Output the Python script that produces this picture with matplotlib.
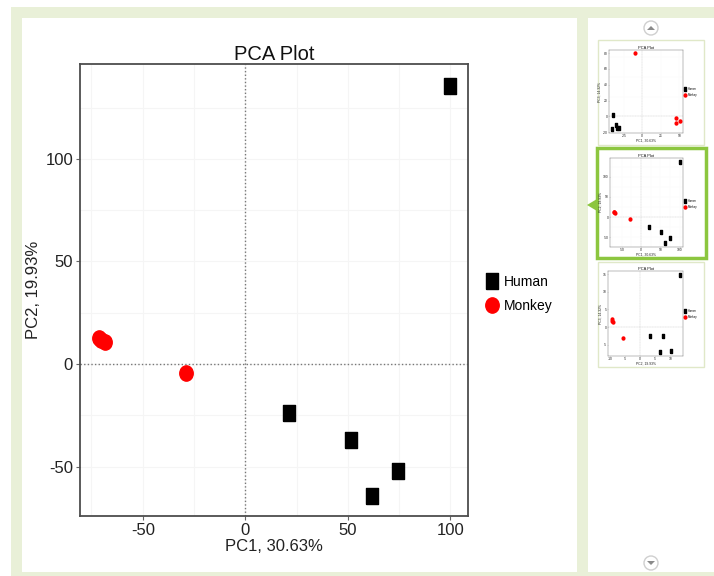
import matplotlib
matplotlib.use('Agg')
import matplotlib.pyplot as plt
from matplotlib.path import Path
from matplotlib.lines import Line2D
from matplotlib.patches import Rectangle, Circle, Polygon

plt.rcParams['font.family'] = ['Liberation Sans', 'DejaVu Sans']
plt.rcParams['axes.unicode_minus'] = False

# main PCA scores (PC1 vs PC2)
human_pc1 = [99.9, 21.3, 51.6, 74.5, 61.8]
human_pc2 = [135.6, -23.9, -37.0, -52.2, -64.4]
monkey_pc1 = [-71.5, -70.3, -68.6, -28.9]
monkey_pc2 = [12.6, 11.8, 10.6, -4.4]
main_xticks = [-50, 0, 50, 100]
main_yticks = [-50, 0, 50, 100]

# thumbnail 1 (other component pair)
t1_human_x = [-39.5, -36.0, -40.5, -34.0, -31.5]
t1_human_y = [1.7, -10.8, -15.8, -15.0, -14.2]
t1_monkey_x = [-10.0, 45.0, 50.5, 46.0]
t1_monkey_y = [80.0, -2.5, -5.4, -8.8]
t1_xticks = [-25, 0, 25, 50]
t1_yticks = [-20, 0, 20, 40, 60, 80]

# thumbnail 3
t3_human_x = [13.1, 3.3, 7.6, 6.7, 10.3]
t3_human_y = [14.8, -2.5, -2.5, -7.0, -6.9]
t3_monkey_x = [-9.4, -9.2, -9.0, -5.8]
t3_monkey_y = [2.2, 1.7, 1.4, -3.0]
t3_xticks = [-10, -5, 0, 5, 10]
t3_yticks = [-5, 0, 5, 10, 15]

W, H = 714, 576
GREEN = '#e9f0d8'
SEL = '#8cc63f'

fig = plt.figure(figsize=(W / 100, H / 100), dpi=100)
bg = fig.add_axes([0, 0, 1, 1], zorder=-1)
bg.set_xlim(0, W)
bg.set_ylim(H, 0)
bg.axis('off')

# page chrome
bg.add_patch(Rectangle((11, 7), W - 11, H - 7, fc=GREEN, ec='none'))
bg.add_patch(Rectangle((22, 18), 555, 554, fc='white', ec='none'))
bg.add_patch(Rectangle((588, 18), 126, 554, fc='white', ec='none'))
for cy, d in [(28, -1), (563, 1)]:
    bg.add_patch(Circle((651, cy), 7, fc='white', ec='#cfcfcf', lw=1))
    bg.add_patch(Polygon([(647, cy - 2 * d), (655, cy - 2 * d), (651, cy + 2 * d)], fc='#8a8a8a', ec='none'))
bg.add_patch(Rectangle((598, 40), 106, 105, fc='white', ec='#e0e8c8', lw=1))
bg.add_patch(Rectangle((597, 148), 109, 110, fc='white', ec=SEL, lw=2.5))
bg.add_patch(Rectangle((598, 262), 106, 105, fc='white', ec='#e0e8c8', lw=1))
bg.add_patch(Polygon([(587, 205), (597, 199), (597, 211)], fc=SEL, ec='none'))

circ = Path.unit_circle()
oval = Path(circ.vertices * [0.88, 1.0], circ.codes)
rect = [(-0.7, -1), (0.7, -1), (0.7, 1), (-0.7, 1), (-0.7, -1)]


def px_axes(x0, y0, x1, y1):
    return fig.add_axes([x0 / W, 1 - y1 / H, (x1 - x0) / W, (y1 - y0) / H])


def pca_panel(ax, hx, hy, mx, my, xlim, ylim, xticks, yticks, xlabel, ylabel, s, leg_xy):
    for v in range(-200, 201, 25):
        ax.axvline(v, color='#f5f5f5', lw=0.8 * s, zorder=0)
        ax.axhline(v, color='#f5f5f5', lw=0.8 * s, zorder=0)
    ax.axvline(0, color='#777777', lw=1.0 * s, ls=(0, (1, 1.6)), zorder=1)
    ax.axhline(0, color='#777777', lw=1.0 * s, ls=(0, (1, 1.6)), zorder=1)
    ax.plot(hx, hy, ls='none', marker=rect, ms=12.2 * s, color='black', zorder=3)
    ax.plot(mx, my, ls='none', marker=oval, ms=11 * s, color='red', zorder=3)
    ax.set_xlim(*xlim)
    ax.set_ylim(*ylim)
    ax.set_xticks(xticks)
    ax.set_yticks(yticks)
    ax.tick_params(length=3 * s, width=0.8 * s, color='#666666', labelsize=12 * s,
                   labelcolor='#222222', pad=2 * s)
    for sp in ax.spines.values():
        sp.set_color('#4d4d4d')
        sp.set_linewidth(1.3 * s)
    ax.set_title('PCA Plot', fontsize=14.5 * s, pad=3 * s, color='#111111')
    ax.set_xlabel(xlabel, fontsize=12 * s, labelpad=1 * s, color='#222222')
    ax.set_ylabel(ylabel, fontsize=12 * s, labelpad=3 * s, color='#222222')
    handles = [Line2D([], [], ls='none', marker=rect, ms=12.2 * s, color='black'),
               Line2D([], [], ls='none', marker=oval, ms=11 * s, color='red')]
    ax.legend(handles, ['Human', 'Monkey'], loc='upper left', bbox_to_anchor=leg_xy,
              bbox_transform=bg.transData, frameon=False, borderpad=0, borderaxespad=0,
              handlelength=0.8, handletextpad=0.5, labelspacing=0.7,
              fontsize=10 * s)


main = px_axes(80, 64, 468, 516)
pca_panel(main, human_pc1, human_pc2, monkey_pc1, monkey_pc2, (-80.6, 108.6), (-74.1, 146.3),
          main_xticks, main_yticks, 'PC1, 30.63%', 'PC2, 19.93%', 1.0, (486, 275))

t1 = px_axes(609, 50, 683, 133)
pca_panel(t1, t1_human_x, t1_human_y, t1_monkey_x, t1_monkey_y, (-45, 55), (-21, 84),
          t1_xticks, t1_yticks, 'PC1, 30.63%', 'PC3, 14.32%', 0.2, (684, 87))

t2 = px_axes(610, 158, 683, 247)
pca_panel(t2, human_pc1, human_pc2, monkey_pc1, monkey_pc2, (-80.6, 108.6), (-74.1, 146.3),
          main_xticks, main_yticks, 'PC1, 30.63%', 'PC2, 19.93%', 0.2, (684, 199))

t3 = px_axes(608, 271, 683, 356)
pca_panel(t3, t3_human_x, t3_human_y, t3_monkey_x, t3_monkey_y, (-10.6, 14.2), (-8.2, 15.9),
          t3_xticks, t3_yticks, 'PC2, 19.93%', 'PC3, 14.32%', 0.2, (684, 309))

fig.savefig('out.png', dpi=100)
